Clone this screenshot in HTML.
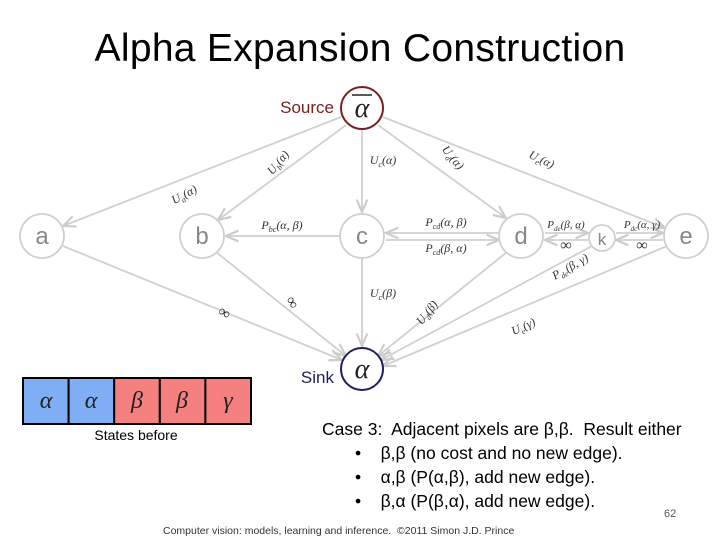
<!DOCTYPE html>
<html><head><meta charset="utf-8"><style>
body{margin:0;background:#fff;width:720px;height:540px;overflow:hidden;position:relative;font-family:"Liberation Sans",sans-serif}
.t{position:absolute;white-space:nowrap}
</style></head><body>
<div class="t" style="left:0;width:720px;text-align:center;top:27px;font-size:39px;color:#000;letter-spacing:0.3px">Alpha Expansion Construction</div>
<svg width="720" height="540" style="position:absolute;left:0;top:0">
<defs><marker id="ar" markerWidth="8" markerHeight="8" refX="7" refY="4" orient="auto"><path d="M0,1 L7,4 L0,7" fill="none" stroke="#ccc" stroke-width="1.2"/></marker></defs>
<g stroke="#d0d0d0" stroke-width="1.8" fill="none">
<line x1="341" y1="117" x2="63" y2="226" marker-end="url(#ar)"/>
<line x1="346" y1="125" x2="218" y2="220" marker-end="url(#ar)"/>
<line x1="362" y1="130" x2="362" y2="212" marker-end="url(#ar)"/>
<line x1="378" y1="125" x2="506" y2="218" marker-end="url(#ar)"/>
<line x1="383" y1="117" x2="665" y2="228" marker-end="url(#ar)"/>
<line x1="340" y1="236" x2="226" y2="236" marker-end="url(#ar)"/>
<line x1="499" y1="233" x2="386" y2="233" marker-end="url(#ar)"/>
<line x1="386" y1="240" x2="499" y2="240" marker-end="url(#ar)"/>
<line x1="545" y1="233" x2="588" y2="233" marker-end="url(#ar)"/>
<line x1="588" y1="240" x2="545" y2="240" marker-end="url(#ar)"/>
<line x1="616" y1="233" x2="663" y2="233" marker-end="url(#ar)"/>
<line x1="663" y1="240" x2="616" y2="240" marker-end="url(#ar)"/>
<line x1="63" y1="246" x2="342" y2="360" marker-end="url(#ar)"/>
<line x1="216" y1="252" x2="346" y2="356" marker-end="url(#ar)"/>
<line x1="362" y1="258" x2="362" y2="346" marker-end="url(#ar)"/>
<line x1="507" y1="252" x2="378" y2="356" marker-end="url(#ar)"/>
<line x1="592" y1="246" x2="381" y2="360" marker-end="url(#ar)"/>
<line x1="667" y1="246" x2="383" y2="366" marker-end="url(#ar)"/>
</g>
<g fill="#fff" stroke="#d0d0d0" stroke-width="1.8">
<circle cx="42" cy="236" r="22"/><circle cx="202" cy="236" r="22"/><circle cx="362" cy="236" r="22"/>
<circle cx="521" cy="236" r="22"/><circle cx="602" cy="238" r="13"/><circle cx="686" cy="236" r="22"/>
</g>
<circle cx="362" cy="108" r="21" fill="#fff" stroke="#7a2020" stroke-width="2"/>
<circle cx="362" cy="369" r="21" fill="#fff" stroke="#202060" stroke-width="2"/>
<g font-family="Liberation Sans" fill="#888" font-size="24" text-anchor="middle">
<text x="42" y="244">a</text><text x="202" y="244">b</text><text x="362" y="244">c</text><text x="521" y="244">d</text><text x="686" y="244">e</text><text x="602" y="245" font-size="17">k</text>
</g>
<g font-family="Liberation Serif" font-style="italic" text-anchor="middle" fill="#222">
<text x="362" y="117" font-size="28">α</text><line x1="352" y1="95" x2="372" y2="95" stroke="#222" stroke-width="1.5"/>
<text x="362" y="378" font-size="28">α</text>
</g>
<text x="334" y="113" font-family="Liberation Sans" font-size="17" fill="#7a2020" text-anchor="end">Source</text>
<text x="334" y="383" font-family="Liberation Sans" font-size="17" fill="#202060" text-anchor="end">Sink</text>
<g font-family="Liberation Serif" font-style="italic" font-size="12" fill="#333" text-anchor="middle">
<text transform="translate(186,198) rotate(-28)">U<tspan font-size="8" dy="3">a</tspan><tspan dy="-3">(α)</tspan></text>
<text transform="translate(281,165) rotate(-50)">U<tspan font-size="8" dy="3">b</tspan><tspan dy="-3">(α)</tspan></text>
<text x="383" y="164">U<tspan font-size="8" dy="3">c</tspan><tspan dy="-3">(α)</tspan></text>
<text transform="translate(450,160) rotate(50)">U<tspan font-size="8" dy="3">d</tspan><tspan dy="-3">(α)</tspan></text>
<text transform="translate(540,163) rotate(25)">U<tspan font-size="8" dy="3">e</tspan><tspan dy="-3">(α)</tspan></text>
<text x="282" y="229">P<tspan font-size="8" dy="3">bc</tspan><tspan dy="-3">(α, β)</tspan></text>
<text x="446" y="226">P<tspan font-size="8" dy="3">cd</tspan><tspan dy="-3">(α, β)</tspan></text>
<text x="446" y="252">P<tspan font-size="8" dy="3">cd</tspan><tspan dy="-3">(β, α)</tspan></text>
<text x="566" y="228" font-size="11">P<tspan font-size="7" dy="3">de</tspan><tspan dy="-3">(β, α)</tspan></text>
<text x="566" y="250" font-size="16">∞</text>
<text x="642" y="228" font-size="11">P<tspan font-size="7" dy="3">dc</tspan><tspan dy="-3">(α, γ)</tspan></text>
<text x="642" y="250" font-size="16">∞</text>
<text transform="translate(572,270) rotate(-30)">P<tspan font-size="8" dy="3">de</tspan><tspan dy="-3">(β, γ)</tspan></text>
<text transform="translate(525,330) rotate(-25)">U<tspan font-size="8" dy="3">e</tspan><tspan dy="-3">(γ)</tspan></text>
<text transform="translate(430,315) rotate(-52)">U<tspan font-size="8" dy="3">d</tspan><tspan dy="-3">(β)</tspan></text>
<text x="383" y="297">U<tspan font-size="8" dy="3">c</tspan><tspan dy="-3">(β)</tspan></text>
<text transform="translate(288,305) rotate(60)" font-size="16">∞</text>
<text transform="translate(222,317) rotate(30)" font-size="16">∞</text>
</g>
<g stroke="#000" stroke-width="2">
<rect x="23" y="378" width="45.6" height="46" fill="#80aef5"/>
<rect x="68.6" y="378" width="45.6" height="46" fill="#80aef5"/>
<rect x="114.2" y="378" width="45.6" height="46" fill="#f48080"/>
<rect x="159.8" y="378" width="45.6" height="46" fill="#f48080"/>
<rect x="205.4" y="378" width="45.6" height="46" fill="#f48080"/>
</g>
<g font-family="Liberation Serif" font-style="italic" font-size="24" text-anchor="middle" fill="#222">
<text x="46" y="408">α</text><text x="91" y="408">α</text><text x="137" y="408">β</text><text x="182" y="408">β</text><text x="228" y="408">γ</text>
</g>
<text x="136" y="440" font-family="Liberation Sans" font-size="14" fill="#000" text-anchor="middle">States before</text>
</svg>
<div class="t" style="left:322px;top:417px;font-size:17.5px;line-height:24px;color:#000">Case 3:&nbsp; Adjacent pixels are β,β.&nbsp; Result either</div>
<div class="t" style="left:355px;top:441px;font-size:17.5px;line-height:24px">•&nbsp;&nbsp;&nbsp; β,β (no cost and no new edge).</div>
<div class="t" style="left:355px;top:465px;font-size:17.5px;line-height:24px">•&nbsp;&nbsp;&nbsp; α,β (P(α,β), add new edge).</div>
<div class="t" style="left:355px;top:489px;font-size:17.5px;line-height:24px">•&nbsp;&nbsp;&nbsp; β,α (P(β,α), add new edge).</div>
<div class="t" style="left:664px;top:508px;font-size:11px;color:#555">62</div>
<div class="t" style="left:163px;top:525px;font-size:10.5px;color:#333">Computer vision: models, learning and inference.&nbsp; ©2011 Simon J.D. Prince</div>
</body></html>
